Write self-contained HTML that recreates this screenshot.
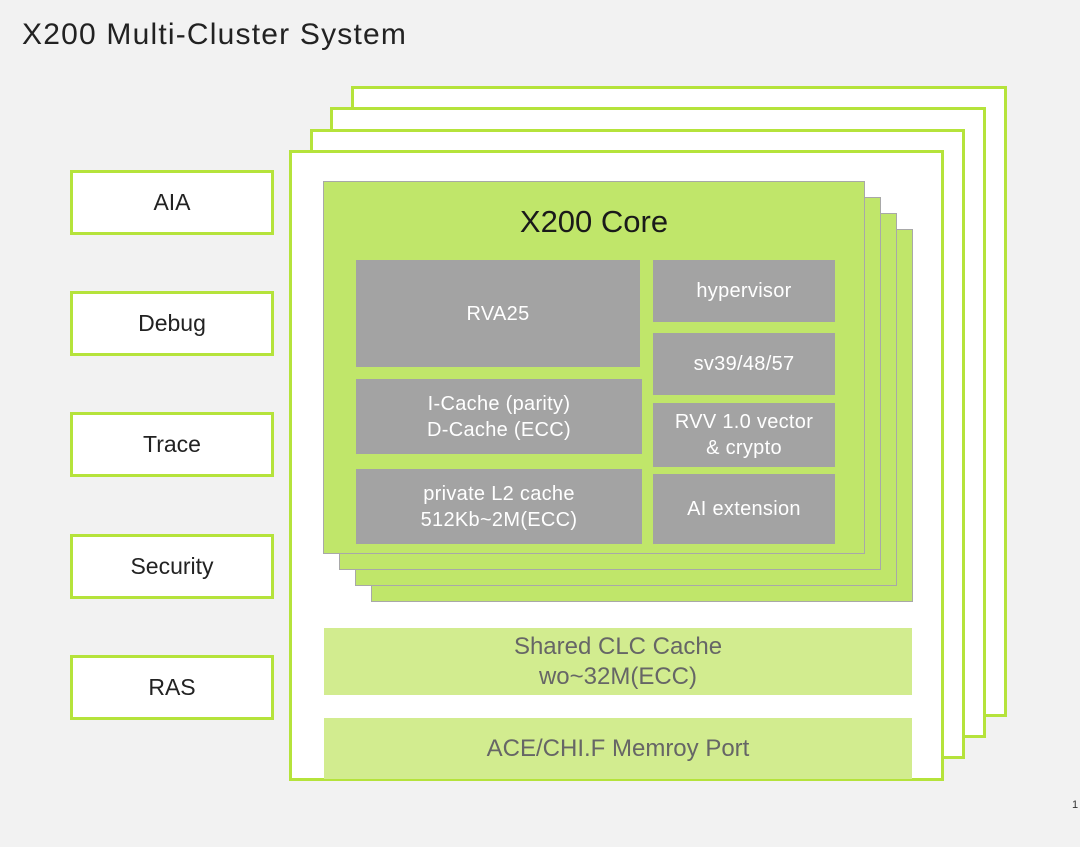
<!DOCTYPE html>
<html><head><meta charset="utf-8"><style>
body{margin:0;width:1080px;height:847px;background:#f2f2f2;position:relative;overflow:hidden;font-family:"Liberation Sans","DejaVu Sans",sans-serif}
div{position:absolute;box-sizing:border-box}
.t{display:flex;align-items:center;justify-content:center;text-align:center}
.fr{background:#fff;border:3px solid #b5e33b}
.lb{background:#fff;border:3px solid #b5e33b;left:70px;width:204px;height:65px;font-size:23px;color:#222}
.cc{background:#c0e66a;border:1.5px solid #a8a8a8}
.g{background:#a3a3a3;color:#fff;font-size:20px;line-height:26px;letter-spacing:0.3px}
.s{background:#d2ec8f;color:#666;font-size:24px;line-height:30px}
</style></head><body>
<div style="left:22px;top:18px;font-size:30px;letter-spacing:1.2px;color:#222">X200 Multi-Cluster System</div>
<div class="fr" style="left:351px;top:86px;width:656px;height:631px"></div>
<div class="fr" style="left:330px;top:107px;width:656px;height:631px"></div>
<div class="fr" style="left:310px;top:129px;width:655px;height:630px"></div>
<div class="fr" style="left:289px;top:150px;width:655px;height:631px"></div>
<div class="lb t" style="top:170px">AIA</div>
<div class="lb t" style="top:291px">Debug</div>
<div class="lb t" style="top:412px">Trace</div>
<div class="lb t" style="top:534px">Security</div>
<div class="lb t" style="top:655px">RAS</div>
<div class="cc" style="left:371px;top:229px;width:542px;height:373px"></div>
<div class="cc" style="left:355px;top:213px;width:542px;height:373px"></div>
<div class="cc" style="left:339px;top:197px;width:542px;height:373px"></div>
<div class="cc" style="left:323px;top:181px;width:542px;height:373px"></div>
<div class="t" style="left:323px;top:200px;width:542px;height:44px;font-size:31px;color:#1a1a1a">X200 Core</div>
<div class="g t" style="left:356px;top:260px;width:284px;height:107px">RVA25</div>
<div class="g t" style="left:356px;top:379px;width:286px;height:75px">I-Cache (parity)<br>D-Cache (ECC)</div>
<div class="g t" style="left:356px;top:469px;width:286px;height:75px">private L2 cache<br>512Kb~2M(ECC)</div>
<div class="g t" style="left:653px;top:260px;width:182px;height:62px">hypervisor</div>
<div class="g t" style="left:653px;top:333px;width:182px;height:62px">sv39/48/57</div>
<div class="g t" style="left:653px;top:403px;width:182px;height:64px">RVV 1.0 vector<br>&amp; crypto</div>
<div class="g t" style="left:653px;top:474px;width:182px;height:70px">AI extension</div>
<div class="s t" style="left:324px;top:628px;width:588px;height:67px">Shared CLC Cache<br>wo~32M(ECC)</div>
<div class="s t" style="left:324px;top:718px;width:588px;height:61px">ACE/CHI.F Memroy Port</div>
<div style="left:1072px;top:799px;font-size:11px;color:#333">1</div>
</body></html>
